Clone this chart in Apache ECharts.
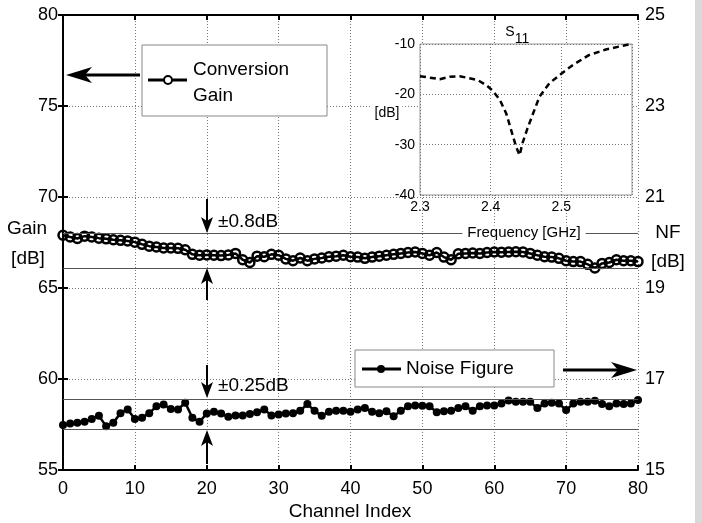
<!DOCTYPE html>
<html>
<head>
<meta charset="utf-8">
<script src="https://cdn.jsdelivr.net/npm/echarts@6/dist/echarts.min.js"></script>
<style>
html,body{margin:0;padding:0;background:#fff;}
#c{width:702px;height:523px;}
</style>
</head>
<body>
<div id="c"></div>
<script>
// ---- data ----
const channels = Array.from({length: 81}, (_, i) => i);
const gain = [67.9,67.8,67.72,67.85,67.8,67.74,67.7,67.65,67.62,67.58,
  67.52,67.4,67.3,67.25,67.2,67.2,67.18,67.1,66.85,66.8,
  66.82,66.8,66.78,66.82,66.9,66.55,66.4,66.75,66.72,66.85,
  66.8,66.6,66.5,66.65,66.5,66.6,66.65,66.72,66.75,66.8,
  66.72,66.7,66.63,66.7,66.75,66.8,66.85,66.9,66.95,66.98,
  66.9,66.8,66.95,66.7,66.55,66.88,66.9,66.92,66.9,66.95,
  66.98,66.97,66.98,66.99,66.98,66.9,66.8,66.72,66.7,66.63,
  66.5,66.45,66.45,66.3,66.1,66.35,66.4,66.55,66.5,66.5,66.45];
const noiseFigure = [15.99,16.02,16.04,16.06,16.12,16.19,15.96,16.04,16.25,16.33,
  16.12,16.15,16.25,16.4,16.44,16.34,16.33,16.48,16.15,16.06,
  16.24,16.28,16.24,16.17,16.2,16.2,16.23,16.27,16.33,16.2,
  16.22,16.24,16.25,16.3,16.45,16.3,16.19,16.28,16.3,16.3,
  16.28,16.33,16.36,16.28,16.25,16.29,16.18,16.3,16.4,16.42,
  16.41,16.4,16.27,16.29,16.3,16.36,16.4,16.3,16.4,16.42,
  16.42,16.46,16.53,16.5,16.5,16.5,16.36,16.46,16.48,16.46,
  16.32,16.46,16.5,16.5,16.52,16.45,16.4,16.46,16.45,16.46,16.54];
const gainRefLines = [68.0, 66.1];
const nfRefLines = [16.55, 15.9];
const s11Freq = [2.300,2.310,2.328,2.342,2.356,2.370,2.382,2.394,2.403,2.413,2.422,2.429,2.436,2.441,2.445,2.452,2.460,2.469,2.483,2.500,2.516,2.539,2.563,2.582,2.598];
const s11dB   = [-16.4,-16.6,-17.0,-16.5,-16.4,-16.8,-17.2,-18.2,-19.3,-21.1,-23.8,-27.1,-30.4,-32.1,-29.7,-26.8,-23.8,-20.5,-17.8,-15.9,-14.2,-12.2,-11.1,-10.5,-10.0];
const gainTicks = {min: 55, max: 80, step: 5};
const nfTicks = {min: 15, max: 25, step: 2};

const FONT = 'Liberation Sans, Arial, Helvetica, sans-serif';
const chart = echarts.init(document.getElementById('c'), null, {renderer: 'canvas'});

const dotted = {show: true, lineStyle: {type: [1, 2], color: '#777', width: 1}};
const blackAxis = {show: true, lineStyle: {color: '#000', width: 2}};

function arrowDown(x, tip, top) {
  return [
    {type: 'line', shape: {x1: x, y1: top, x2: x, y2: tip - 12}, style: {stroke: '#000', lineWidth: 2}, z: 100},
    {type: 'polygon', shape: {points: [[x, tip], [x - 6, tip - 16], [x, tip - 12], [x + 6, tip - 16]]}, style: {fill: '#000'}, z: 100}
  ];
}
function arrowUp(x, tip, bottom) {
  return [
    {type: 'line', shape: {x1: x, y1: bottom, x2: x, y2: tip + 12}, style: {stroke: '#000', lineWidth: 2}, z: 100},
    {type: 'polygon', shape: {points: [[x, tip], [x - 6, tip + 16], [x, tip + 12], [x + 6, tip + 16]]}, style: {fill: '#000'}, z: 100}
  ];
}
function txt(x, y, s, size, align, extra) {
  return Object.assign({type: 'text', x: x, y: y, z: 100,
    style: {text: s, font: size + 'px ' + FONT, fill: '#000', align: align || 'left', verticalAlign: 'middle'}}, extra || {});
}

const graphics = [
  {type: 'rect', shape: {x: 695, y: 0, width: 7, height: 523}, style: {fill: '#d9d9d9'}, z: 0},
  // axis names
  txt(27, 229, 'Gain', 19, 'center'),
  txt(28, 259, '[dB]', 19, 'center'),
  txt(668, 233, 'NF', 19, 'center'),
  txt(668, 262, '[dB]', 19, 'center'),
  txt(350, 512, 'Channel Index', 19, 'center'),
  // legend 1
  {type: 'rect', shape: {x: 142, y: 45, width: 185, height: 71}, style: {fill: '#fff', stroke: '#888', lineWidth: 1}, z: 90},
  {type: 'line', shape: {x1: 148, y1: 80, x2: 187, y2: 80}, style: {stroke: '#000', lineWidth: 3}, z: 100},
  {type: 'circle', shape: {cx: 168, cy: 80, r: 4}, style: {fill: '#fff', stroke: '#000', lineWidth: 2}, z: 101},
  txt(193, 70, 'Conversion', 19),
  txt(193, 96, 'Gain', 19),
  {type: 'line', shape: {x1: 140, y1: 75, x2: 84, y2: 75}, style: {stroke: '#000', lineWidth: 3}, z: 100},
  {type: 'polygon', shape: {points: [[66, 75], [92, 67], [85, 75], [92, 83]]}, style: {fill: '#000'}, z: 100},
  // legend 2
  {type: 'rect', shape: {x: 355, y: 350, width: 199, height: 37}, style: {fill: '#fff', stroke: '#888', lineWidth: 1}, z: 90},
  {type: 'line', shape: {x1: 362, y1: 369, x2: 401, y2: 369}, style: {stroke: '#000', lineWidth: 3}, z: 100},
  {type: 'circle', shape: {cx: 381, cy: 369, r: 4}, style: {fill: '#000'}, z: 101},
  txt(406, 369, 'Noise Figure', 19),
  {type: 'line', shape: {x1: 563, y1: 370, x2: 620, y2: 370}, style: {stroke: '#000', lineWidth: 3}, z: 100},
  {type: 'polygon', shape: {points: [[637, 370], [611, 362], [618, 370], [611, 378]]}, style: {fill: '#000'}, z: 100},
  // tolerance annotations
  ...arrowDown(207, 233, 199),
  ...arrowUp(207, 268, 300),
  txt(218, 222, '±0.8dB', 19),
  ...arrowDown(207, 398, 365),
  ...arrowUp(207, 430, 464),
  txt(218, 386, '±0.25dB', 19),
  // inset labels
  txt(510, 32, 'S', 14, 'center'),
  txt(522, 39, '11', 14, 'center'),
  txt(387, 113, '[dB]', 14, 'center', {style: {text: '[dB]', font: '14px ' + FONT, fill: '#000', align: 'center', verticalAlign: 'middle', backgroundColor: '#fff', padding: [1, 3]}}),
  txt(524, 233, 'Frequency [GHz]', 15, 'center', {style: {text: 'Frequency [GHz]', font: '15px ' + FONT, fill: '#000', align: 'center', verticalAlign: 'middle', backgroundColor: '#fff', padding: [0, 5]}})
];

const option = {
  animation: false,
  backgroundColor: '#fff',
  textStyle: {fontFamily: FONT},
  grid: [
    {left: 63, top: 15, width: 575, height: 455, show: false},
    {left: 420, top: 44, width: 212, height: 151, show: true, backgroundColor: '#fff', borderColor: '#999', borderWidth: 1, z: 5}
  ],
  xAxis: [
    {gridIndex: 0, type: 'value', min: 0, max: 80, interval: 10, position: 'bottom',
      axisLine: blackAxis, axisTick: {show: true, inside: true, length: 5, lineStyle: {color: '#000', width: 2}},
      axisLabel: {show: true, fontSize: 18, color: '#000', margin: 10, fontFamily: FONT},
      splitLine: dotted},
    {gridIndex: 0, type: 'value', min: 0, max: 80, interval: 10, position: 'top',
      axisLine: blackAxis, axisTick: {show: true, inside: true, length: 5, lineStyle: {color: '#000', width: 2}},
      axisLabel: {show: false}, splitLine: {show: false}},
    {gridIndex: 1, type: 'value', min: 2.3, max: 2.6, interval: 0.1, z: 6,
      axisLine: {show: false}, axisTick: {show: false},
      axisLabel: {show: true, fontSize: 14, color: '#000', margin: 5, fontFamily: FONT,
        formatter: v => (v > 2.55 ? '' : v.toFixed(1))},
      splitLine: dotted}
  ],
  yAxis: [
    {gridIndex: 0, type: 'value', min: gainTicks.min, max: gainTicks.max, interval: gainTicks.step, position: 'left',
      axisLine: blackAxis, axisTick: {show: true, inside: true, length: 5, lineStyle: {color: '#000', width: 2}},
      axisLabel: {show: true, fontSize: 18, color: '#000', margin: 5, fontFamily: FONT},
      splitLine: dotted},
    {gridIndex: 0, type: 'value', min: nfTicks.min, max: nfTicks.max, interval: nfTicks.step, position: 'right',
      axisLine: blackAxis, axisTick: {show: true, inside: true, length: 5, lineStyle: {color: '#000', width: 2}},
      axisLabel: {show: true, fontSize: 18, color: '#000', margin: 7, fontFamily: FONT},
      splitLine: {show: false}},
    {gridIndex: 1, type: 'value', min: -40, max: -10, interval: 10, z: 6,
      axisLine: {show: false}, axisTick: {show: false},
      axisLabel: {show: true, fontSize: 14, color: '#000', margin: 5, fontFamily: FONT},
      splitLine: dotted}
  ],
  series: [
    {type: 'line', xAxisIndex: 0, yAxisIndex: 0, z: 3,
      data: channels.map((c, i) => [c, gain[i]]),
      symbol: 'circle', symbolSize: 9, showAllSymbol: true,
      lineStyle: {color: '#000', width: 2.5},
      itemStyle: {color: 'rgba(0,0,0,0)', borderColor: '#000', borderWidth: 2.5},
      markLine: {silent: true, symbol: 'none', label: {show: false},
        lineStyle: {type: 'solid', color: '#555', width: 1},
        data: gainRefLines.map(v => ({yAxis: v}))}},
    {type: 'line', xAxisIndex: 0, yAxisIndex: 1, z: 3,
      data: channels.map((c, i) => [c, noiseFigure[i]]),
      symbol: 'circle', symbolSize: 8, showAllSymbol: true,
      lineStyle: {color: '#000', width: 2.5},
      itemStyle: {color: '#000'},
      markLine: {silent: true, symbol: 'none', label: {show: false},
        lineStyle: {type: 'solid', color: '#555', width: 1},
        data: nfRefLines.map(v => ({yAxis: v}))}},
    {type: 'line', xAxisIndex: 2, yAxisIndex: 2, z: 10,
      data: s11Freq.map((f, i) => [f, s11dB[i]]),
      symbol: 'none', smooth: false,
      lineStyle: {color: '#000', width: 2.5, type: [6, 4]}}
  ],
  graphic: graphics
};
chart.setOption(option);
</script>
</body>
</html>
